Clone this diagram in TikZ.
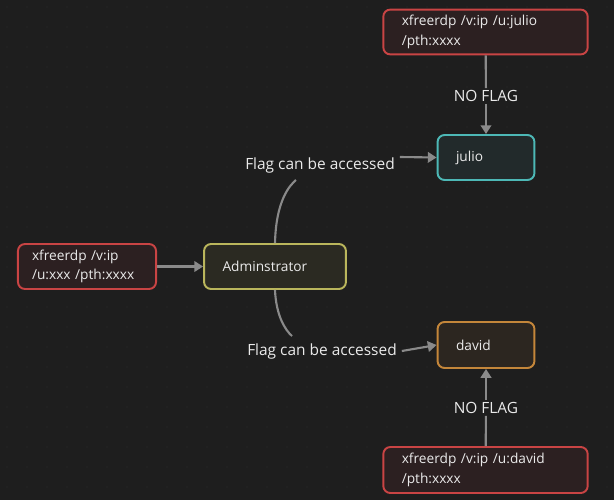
\documentclass[tikz,border=0pt]{standalone}
\usepackage{fontspec}
\setmainfont{Open Sans}
\usetikzlibrary{positioning,arrows.meta}
\definecolor{bgcol}{HTML}{1E1E1E}
\definecolor{dotcol}{HTML}{2E2E2E}
\definecolor{txtcol}{HTML}{EAEAEA}
\definecolor{linecol}{HTML}{8A8A8A}
\definecolor{redline}{HTML}{C94444}\definecolor{redfill}{HTML}{2C2021}
\definecolor{tealline}{HTML}{4DB8B6}\definecolor{tealfill}{HTML}{222A2B}
\definecolor{olivline}{HTML}{BAB65C}\definecolor{olivfill}{HTML}{2B2A22}
\definecolor{orngline}{HTML}{C4863A}\definecolor{orngfill}{HTML}{2C2620}
\tikzset{
  card/.style={draw, line width=1.1pt, rounded corners=4pt, text=txtcol,
    align=left, font=\fontsize{7.8}{11}\selectfont, inner xsep=10.5pt,
    text width=#1, anchor=center},
  link/.style={draw=linecol, line width=1.2pt, -{Triangle[length=5pt,width=6pt]}},
  tag/.style={text=txtcol, font=\fontsize{8.8}{10}\selectfont, fill=bgcol, inner sep=1pt}
}
\begin{document}
\begin{tikzpicture}[x=0.02cm,y=-0.02cm]
\fill[bgcol] (0,0) rectangle (614,500);
\useasboundingbox (0,0) rectangle (614,500);
% dot grid
\foreach \i in {0,20,...,600}
  \foreach \j in {0,20,...,500}
    \fill[dotcol] (\i+7,\j+7) circle (0.4pt);
% cards
\node[card=3.35cm, draw=redline, fill=redfill, minimum height=0.88cm] (topcmd) at (485.5,32) {xfreerdp /v:ip /u:julio\\/pth:xxxx};
\node[card=1.2cm, draw=tealline, fill=tealfill, minimum height=0.9cm] (julio) at (486,157.5) {julio};
\node[card=2.1cm, draw=olivline, fill=olivfill, minimum height=0.9cm] (admin) at (275,266.5) {Adminstrator};
\node[card=2.2cm, inner xsep=8pt, draw=redline, fill=redfill, minimum height=0.9cm] (leftcmd) at (87,266.5) {xfreerdp /v:ip\\/u:xxx /pth:xxxx};
\node[card=1.2cm, draw=orngline, fill=orngfill, minimum height=0.92cm] (david) at (486,345) {david};
\node[card=3.35cm, draw=redline, fill=redfill, minimum height=0.92cm] (botcmd) at (485.5,470) {xfreerdp /v:ip /u:david\\/pth:xxxx};
% labels
\node[tag] (nf1) at (486,96) {NO FLAG};
\node[tag] (nf2) at (486,408) {NO FLAG};
\node[tag] (acc1) at (320,165) {Flag can be accessed};
\node[tag] (acc2) at (322,351) {Flag can be accessed};
% connectors
\draw[link] (leftcmd) -- (admin);
\draw[link,-] (topcmd) -- (nf1);
\draw[link] (nf1) -- (julio);
\draw[link,-] (botcmd) -- (nf2);
\draw[link] (nf2) -- (david);
\draw[link,-] (admin.north) .. controls (276,200) and (290,185) .. (296,180);
\draw[link] (acc1.east) ++(3,-8) coordinate (a1) (a1) -- (julio.west);
\draw[link,-] (admin.south) .. controls (276,315) and (285,330) .. (292,336);
\draw[link] (acc2.east) ++(3,0) coordinate (a2) (a2) -- (david.west);
\end{tikzpicture}
\end{document}
